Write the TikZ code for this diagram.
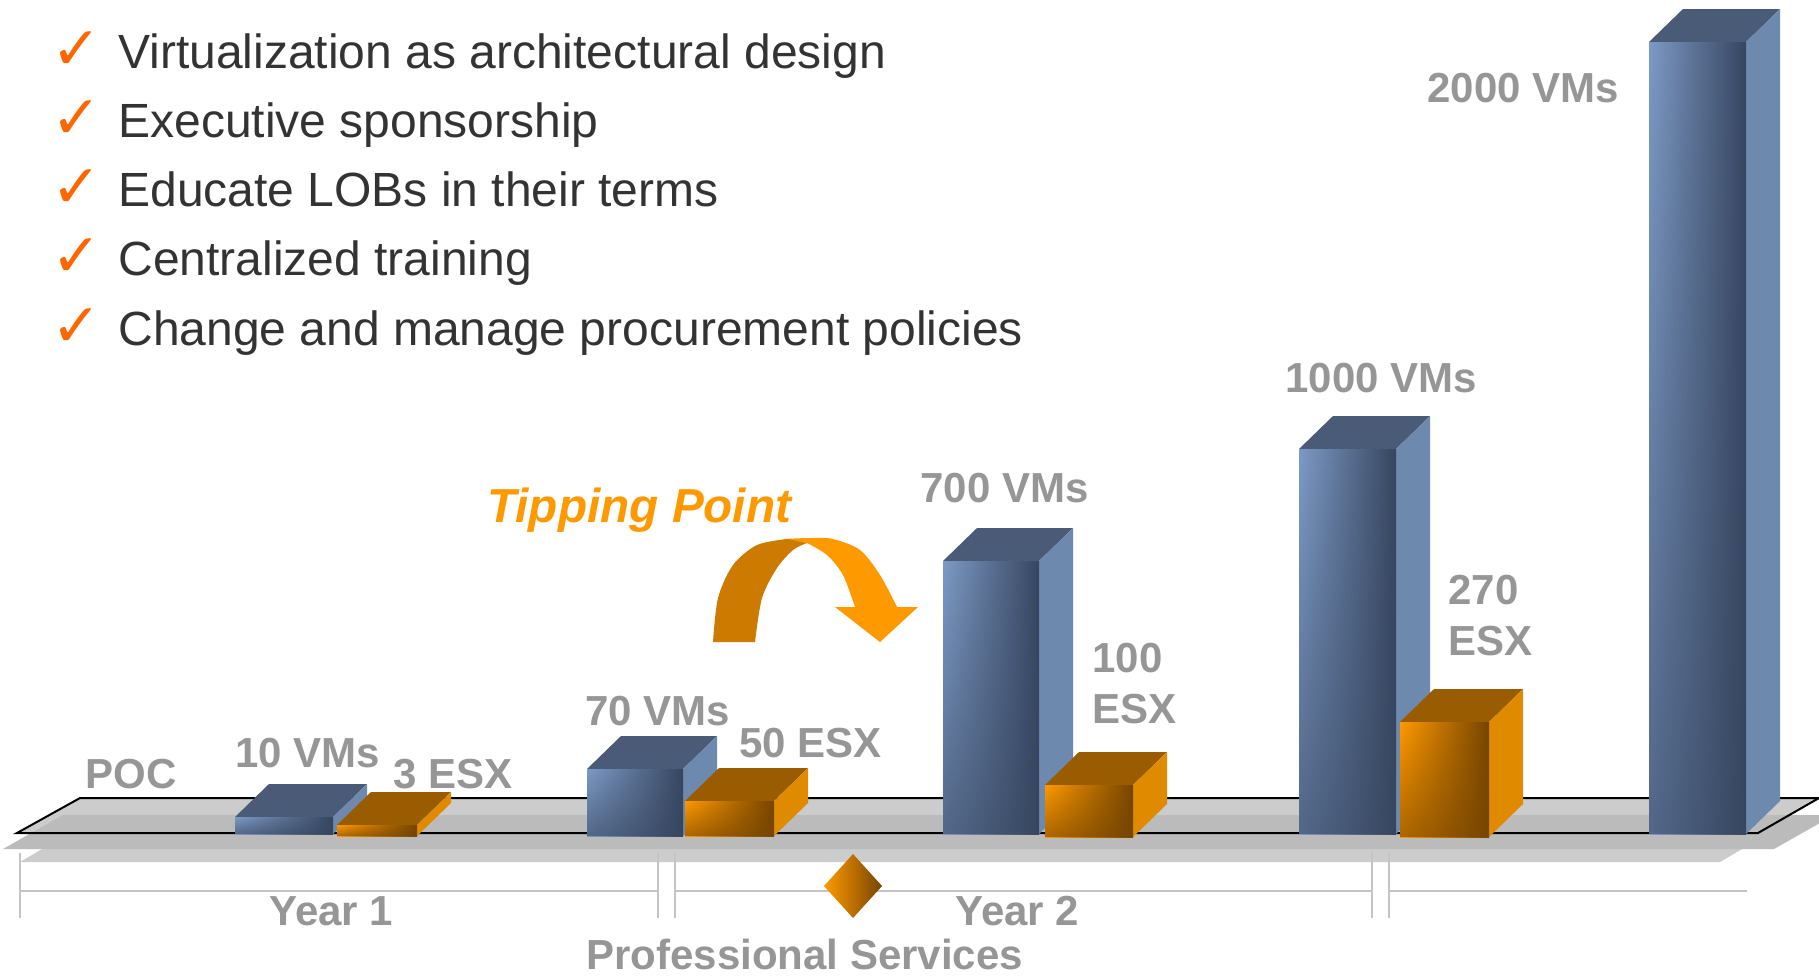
\documentclass[tikz,border=0pt]{standalone}
\usepackage{fontspec}
\setmainfont{Liberation Sans}
\newfontfamily\checkfont{DejaVu Sans}
\usetikzlibrary{fadings}

\definecolor{textgray}{HTML}{333333}
\definecolor{lblgray}{HTML}{969696}
\definecolor{checkorange}{HTML}{FF6600}
\definecolor{tiplight}{HTML}{FF9900}
\definecolor{tipdark}{HTML}{CC7A00}
\definecolor{vmlight}{HTML}{7D9AC5}
\definecolor{vmdark}{HTML}{374660}
\definecolor{vmtop}{HTML}{4A5B77}
\definecolor{vmside}{HTML}{6E89AE}
\definecolor{esxlight}{HTML}{FF9900}
\definecolor{esxdark}{HTML}{764500}
\definecolor{esxtop}{HTML}{995C00}
\definecolor{esxside}{HTML}{E08A00}
\definecolor{floorlight}{HTML}{CCCCCC}
\definecolor{floordark}{HTML}{BBBBBB}
\definecolor{tlinegray}{HTML}{C4C4C4}

\tikzfading[name=barfade, top color=transparent!100, bottom color=transparent!40]

\begin{document}
\begin{tikzpicture}[x=0.5pt, y=-0.5pt,
    itemtext/.style={anchor=base west, inner sep=0pt, text=textgray,
        font=\fontsize{24}{28}\selectfont},
    chkmark/.style={anchor=base west, inner sep=0pt, text=checkorange,
        font=\checkfont\fontsize{30}{34}\selectfont},
    vallabel/.style={anchor=base west, inner sep=0pt, text=lblgray, align=left,
        font=\bfseries\fontsize{21}{25.5}\selectfont},
    tiplabel/.style={anchor=base west, inner sep=0pt, text=tiplight,
        font=\bfseries\itshape\fontsize{23.85}{28}\selectfont},
    tline/.style={draw=tlinegray, line width=1pt}]
        % Fija el lienzo con fondo blanco.
        \fill[white] (0,0) rectangle (1819,975);
        \useasboundingbox (0,0) rectangle (1819,975);
    
        % Lista de puntos con sus marcas.
        \foreach \txt [count=\i] in {Virtualization as architectural design,
            Executive sponsorship, Educate LOBs in their terms,
            Centralized training, Change and manage procurement policies}{
            \node[chkmark] (chk\i) at (51,{69+69.3*(\i-1)}) {✓};
            \node[itemtext] (item\i) at (118,{68+69.3*(\i-1)}) {\txt};
        }
    
        % Sombras y plataforma del gráfico.
        \fill[floorlight] (20,862) -- (1720,862) -- (1800,815) -- (100,815) -- cycle;
        \fill[floorlight] (17,833) -- (1758,833) -- (1819,798) -- (80,798) -- cycle;
        \fill[floordark] (3,849) -- (1774,849) -- (1834,815) -- (63,815) -- cycle;
        \draw[line width=1pt] (17,833) -- (1758,833) -- (1819,798) -- (80,798) -- cycle;
    
        % Barras de VMs (azules).
        \foreach \xl/\xr/\yt/\yb in {235/333/817/834, 587/683/769/836,
            943/1039/561/834, 1299/1396/449/834, 1649/1746/42/834}{
            \fill[vmtop] (\xl,\yt) -- (\xl+34,\yt-33) -- (\xr+34,\yt-33) -- (\xr,\yt) -- cycle;
            \fill[vmside] (\xr,\yt) -- (\xr+34,\yt-33) -- (\xr+34,\yb-33) -- (\xr,\yb) -- cycle;
            \shade[left color=vmlight, right color=vmdark] (\xl,\yt) rectangle (\xr,\yb);
            \fill[vmdark, path fading=barfade] (\xl,\yt) rectangle (\xr,\yb);
        }
    
        % Barras de ESX (naranjas).
        \foreach \xl/\xr/\yt/\yb in {337/417/825/836, 685/774/801/836,
            1045/1133/785/837, 1400/1489/722/837}{
            \fill[esxtop] (\xl,\yt) -- (\xl+34,\yt-33) -- (\xr+34,\yt-33) -- (\xr,\yt) -- cycle;
            \fill[esxside] (\xr,\yt) -- (\xr+34,\yt-33) -- (\xr+34,\yb-33) -- (\xr,\yb) -- cycle;
            \shade[left color=esxlight, right color=esxdark] (\xl,\yt) rectangle (\xr,\yb);
            \fill[esxdark, path fading=barfade] (\xl,\yt) rectangle (\xr,\yb);
        }
    
        % Etiquetas de valores.
        \node[vallabel] (poc) at (85,788) {POC};
        \node[vallabel] (vm10) at (235,767) {10 VMs};
        \node[vallabel] (esx3) at (393,788) {3 ESX};
        \node[vallabel] (vm70) at (585,725) {70 VMs};
        \node[vallabel] (esx50) at (739,757) {50 ESX};
        \node[vallabel] (vm700) at (920,502) {700 VMs};
        \node[vallabel] (esx100) at (1092,723) {100\\ESX};
        \node[vallabel] (vm1000) at (1285,392) {1000 VMs};
        \node[vallabel] (esx270) at (1448,655) {270\\ESX};
        \node[vallabel] (vm2000) at (1427,102) {2000 VMs};
    
        % Flecha curva del punto de inflexión.
        \fill[tiplight] plot[smooth] coordinates {(783,539) (810,538) (833,539) (860,550) (880,575) (897,607)}
            -- (918,607) -- (880,642) -- (835,607)
            -- plot[smooth] coordinates {(855,607) (843,575) (827,555) (807,543)} -- cycle;
        \fill[tipdark] plot[smooth] coordinates {(713,642) (718,598) (733,565) (757,545) (787,539)}
            -- plot[smooth] coordinates {(807,543) (793,550) (777,568) (762,598) (755,642)} -- cycle;
        \node[tiplabel] (tip) at (487,522) {Tipping Point};
    
        % Línea de tiempo inferior.
        \draw[tline] (20,891) -- (658,891);
        \draw[tline] (675,891) -- (1372,891);
        \draw[tline] (1389,891) -- (1747,891);
        \foreach \x in {20,658,675,1372,1389}
            \draw[tline] (\x,853) -- (\x,918);
        \shade[left color=esxlight, right color=esxdark]
            (824,886) -- (853,854) -- (882,886) -- (853,918) -- cycle;
        \node[vallabel] (year1) at (269,925) {Year 1};
        \node[vallabel] (year2) at (955,925) {Year 2};
        \node[vallabel] (prof) at (586,969) {Professional Services};
    \end{tikzpicture}
\end{document}
